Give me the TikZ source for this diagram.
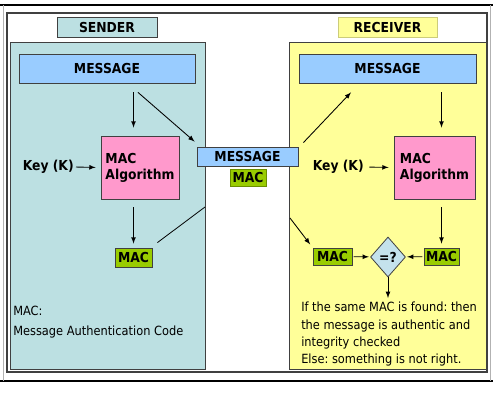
\documentclass[tikz,border=0pt]{standalone}
\usepackage{fontspec}
\setmainfont{DejaVu Sans Condensed}
\usetikzlibrary{calc,shapes.geometric}
\frenchspacing

\definecolor{senderbg}{HTML}{BCE0E2}
\definecolor{receiverbg}{HTML}{FFFF99}
\definecolor{msgblue}{HTML}{99CCFF}
\definecolor{algpink}{HTML}{FF99CC}
\definecolor{macgreen}{HTML}{99CC00}
\definecolor{cmpblue}{HTML}{C4E2EC}
\definecolor{framegray}{HTML}{404040}

\tikzset{
  lbl/.style={font=\bfseries\fontsize{10.3}{12}\selectfont},
  box/.style={draw=framegray, line width=0.6pt, inner sep=0pt, lbl},
  msgbox/.style={box, fill=msgblue},
  algbox/.style={box, fill=algpink, align=left, minimum width=58.5pt, minimum height=47.25pt},
  macbox/.style={box, fill=macgreen},
  arr/.style={->, >=latex, line width=0.65pt, black},
  note/.style={font=\fontsize{9.5}{13}\selectfont, align=left, inner sep=0pt},
}

\begin{document}
\begin{tikzpicture}[x=0.75pt,y=0.75pt,yscale=-1,xscale=1]
\useasboundingbox (0,0) rectangle (493,400);
\fill[white] (0,0) rectangle (493,400);

% frame
\draw[line width=2.2pt] (0,5) -- (493,5);
\draw[line width=2.2pt] (0,381) -- (493,381);
\draw[gray!60, line width=0.6pt] (3,5) -- (3,381);
\draw[gray!60, line width=0.6pt] (490,5) -- (490,381);
\draw[framegray, line width=1.1pt] (7,13) rectangle (487,372);

% panels
\draw[framegray, fill=senderbg, line width=0.6pt] (10,42) rectangle (205,369);
\draw[framegray, fill=receiverbg, line width=0.6pt] (289,42) rectangle (486,369);
\node[box, fill=senderbg, minimum width=75pt, minimum height=15pt] (stitle) at (107,27) {SENDER};
\node[box, fill=receiverbg, draw=receiverbg!80!black, minimum width=74.25pt, minimum height=15pt] (rtitle) at (387.5,27) {RECEIVER};

% sender side
\node[msgbox, minimum width=132pt, minimum height=21.75pt] (smsg) at (107,68.5) {MESSAGE};
\node[algbox] (salg) at (140,167.5) {MAC\\Algorithm};
\node[macbox, minimum width=27.75pt, minimum height=14.25pt] (smac) at (133.5,257.5) {MAC};
\node[lbl, anchor=east, inner sep=0pt] (skey) at (74,167) {Key (K)};
\node[note, anchor=north west, font=\fontsize{9.5}{15}\selectfont] (sdef) at (13,306) {MAC:\\Message Authentication Code};
\coordinate (sout) at (205,207);

% in transit
\node[msgbox, minimum width=75.75pt, minimum height=14.25pt] (mmsg) at (247.5,156.5) {MESSAGE};
\node[macbox, draw=macgreen!70!black, minimum width=27pt, minimum height=12.75pt] (mmac) at (248,177.5) {MAC};

% receiver side
\node[msgbox, minimum width=132.75pt, minimum height=21.75pt] (rmsg) at (387.5,68.5) {MESSAGE};
\node[algbox, minimum width=60.75pt] (ralg) at (434.5,167.5) {MAC\\Algorithm};
\node[lbl, anchor=east, inner sep=0pt] (rkey) at (364,167) {Key (K)};
\node[macbox, minimum width=29.25pt, minimum height=12.75pt] (rmacin) at (332.5,256.5) {MAC};
\node[macbox, minimum width=26.25pt, minimum height=12.75pt] (rmacout) at (441.5,256.5) {MAC};
\node[diamond, draw=framegray, fill=cmpblue, line width=0.6pt, minimum width=26.25pt, minimum height=30pt, inner sep=0pt, lbl] (cmp) at (388,257) {=?};
\node[note, anchor=north west] (verdict) at (301,302) {If the same MAC is found: then\\the message is authentic and\\integrity checked\\Else: something is not right.};
\coordinate (rin) at (290,218);

% sender arrows
\draw[arr, shorten <=6.75pt, shorten >=6pt] (smsg.south -| smac) -- (salg.north -| smac);
\draw[arr] ($(smsg.south)+(31,9)$) -- ($(mmsg.north west)+(-2,-5)$);
\draw[arr, shorten <=1.5pt, shorten >=3.75pt] (skey.east) -- (salg.west);
\draw[arr, shorten <=6pt, shorten >=3pt] (salg.south -| smac) -- (smac.north);
\draw[line width=0.6pt] ($(smac.north east)+(5,-5)$) -- (sout);

% receiver arrows
\draw[arr] ($(mmsg.north east)+(5,-4)$) -- ($(rmsg.south)+(-36.5,9)$);
\draw[arr, shorten <=6.75pt, shorten >=6pt] (rmsg.south -| rmacout) -- (ralg.north -| rmacout);
\draw[arr, shorten <=4pt, shorten >=3.75pt] (rkey.east) -- (ralg.west);
\draw[arr, shorten <=6pt, shorten >=3pt] (ralg.south -| rmacout) -- (rmacout.north);
\draw[arr, shorten >=3pt] (rin) -- (rmacin.north west);
\draw[arr, shorten <=1pt, shorten >=1pt] (rmacin) -- (cmp);
\draw[arr, shorten <=1pt, shorten >=1pt] (rmacout) -- (cmp);
\draw[arr, shorten >=3pt] (cmp.south) -- (verdict.north -| cmp);

\end{tikzpicture}
\end{document}
